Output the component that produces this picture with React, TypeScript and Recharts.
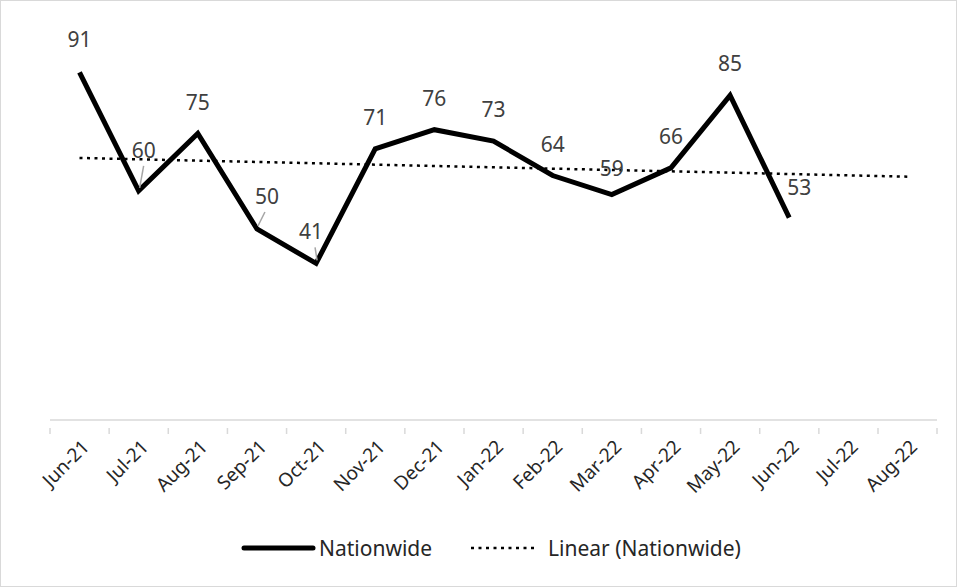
import { LineChart, Line, XAxis, YAxis, Legend, LabelList } from 'recharts';

const months = ['Jun-21', 'Jul-21', 'Aug-21', 'Sep-21', 'Oct-21', 'Nov-21', 'Dec-21', 'Jan-22', 'Feb-22', 'Mar-22', 'Apr-22', 'May-22', 'Jun-22', 'Jul-22', 'Aug-22'];
const nationwide = [91, 60, 75, 50, 41, 71, 76, 73, 64, 59, 66, 85, 53, null, null];
// trend line: only its two ends, joined with connectNulls
const trendEnds = [68.6, null, null, null, null, null, null, null, null, null, null, null, null, null, 63.7];

const data = months.map((mes, i) => ({ mes, nationwide: nationwide[i], trend: trendEnds[i] }));

const FONT = '"Noto Sans", sans-serif';
const HALF_BAND = 29.5;

// label offsets (dx, dy from the point) where Excel pushed the labels aside
const nudges: Record<number, [number, number]> = {
  0: [0, -33],
  1: [5, -41],
  3: [10, -33],
  4: [-5, -32],
  9: [0, -27],
  12: [10, -31],
};
const leaders = [1, 3, 4];

const PointLabel = (props: any) => {
  const { x, y, value, index } = props;
  if (value == null) return null;
  const [dx, dy] = nudges[index] || [0, -32];
  return (
    <g>
      {leaders.includes(index) && (
        <line x1={x + 1} y1={y - 3} x2={x + dx * 0.6 + 2} y2={y + dy + 16} stroke="#a6a6a6" strokeWidth={1.5} />
      )}
      <text x={x + dx} y={y + dy} textAnchor="middle" dominantBaseline="central" fontFamily={FONT} fontSize={21} fill="#404040">
        {value}
      </text>
    </g>
  );
};

const MonthTick = (props: any) => {
  const { x, y, payload, index } = props;
  return (
    <g>
      <line x1={x - HALF_BAND} y1={y} x2={x - HALF_BAND} y2={y + 6} stroke="#d9d9d9" strokeWidth={1.5} />
      {index === months.length - 1 && (
        <line x1={x + HALF_BAND} y1={y} x2={x + HALF_BAND} y2={y + 6} stroke="#d9d9d9" strokeWidth={1.5} />
      )}
      <g transform={`translate(${x + 6},${y + 15})`}>
        <text transform="rotate(-45)" textAnchor="end" dominantBaseline="central" fontFamily={FONT} fontSize={19} fill="#262626">
          {payload.value}
        </text>
      </g>
    </g>
  );
};

const ChartLegend = () => (
  <svg width={957} height={36}>
    <line x1={243} y1={18} x2={312} y2={18} stroke="#000" strokeWidth={5} strokeLinecap="round" />
    <text x={318} y={18} dominantBaseline="central" fontFamily={FONT} fontSize={21} fill="#262626">Nationwide</text>
    <line x1={470} y1={18} x2={533} y2={18} stroke="#000" strokeWidth={2.5} strokeDasharray="3 4.5" />
    <text x={547} y={18} dominantBaseline="central" fontFamily={FONT} fontSize={21} fill="#262626">Linear (Nationwide)</text>
  </svg>
);

export default function App() {
  return (
    <div style={{ position: 'absolute', left: 0, top: 0, width: 955, height: 585, border: '1px solid #d9d9d9', background: '#fff' }}>
      <LineChart width={955} height={585} data={data} margin={{ top: 37, right: 19, left: 49, bottom: 20 }}>
        <XAxis
          dataKey="mes"
          interval={0}
          height={110}
          stroke="#d9d9d9"
          strokeWidth={1.5}
          tickLine={false}
          padding={{ left: HALF_BAND, right: HALF_BAND }}
          tick={<MonthTick />}
        />
        <YAxis hide domain={[0, 100]} />
        <Legend verticalAlign="bottom" content={<ChartLegend />} wrapperStyle={{ left: 0, width: 957, height: 36 }} />
        <Line
          dataKey="trend"
          connectNulls
          stroke="#000"
          strokeWidth={2.5}
          strokeDasharray="3 4.5"
          dot={false}
          activeDot={false}
          isAnimationActive={false}
        />
        <Line
          dataKey="nationwide"
          stroke="#000"
          strokeWidth={5}
          dot={false}
          activeDot={false}
          isAnimationActive={false}
        >
          <LabelList dataKey="nationwide" content={<PointLabel />} />
        </Line>
      </LineChart>
    </div>
  );
}
